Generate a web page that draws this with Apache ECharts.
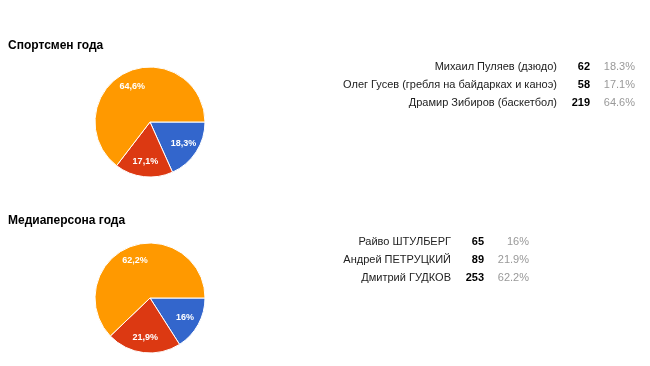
<!DOCTYPE html>
<html><head><meta charset="utf-8">
<script src="https://cdn.jsdelivr.net/npm/echarts@6/dist/echarts.min.js"></script>
<style>html,body{margin:0;padding:0;background:#fff}#c{width:650px;height:366px}</style>
</head><body><div id="c"></div>
<script>
var titles = ['Спортсмен года', 'Медиаперсона года'];
var names1 = ['Михаил Пуляев (дзюдо)', 'Олег Гусев (гребля на байдарках и каноэ)', 'Драмир Зибиров (баскетбол)'];
var values1 = [62, 58, 219];
var names2 = ['Райво ШТУЛБЕРГ', 'Андрей ПЕТРУЦКИЙ', 'Дмитрий ГУДКОВ'];
var values2 = [65, 89, 253];
var colors = ['#3366cc', '#dc3912', '#ff9900'];

function pct(v, arr) {
  var s = arr.reduce(function(a, b){return a + b;}, 0);
  return parseFloat((v / s * 100).toFixed(1));
}
var chart = echarts.init(document.getElementById('c'));
var groups = [
  {names: names1, values: values1, cy: 122, titleY: 47, nameX: 557, valX: 590, pctX: 635, rowY: 67},
  {names: names2, values: values2, cy: 298, titleY: 222, nameX: 451, valX: 484, pctX: 529, rowY: 242}
];
var series = [], graphic = [];
groups.forEach(function(g, gi) {
  var data = g.names.map(function(n, i){ return {name: n, value: g.values[i], itemStyle: {color: colors[i]}}; });
  series.push({
    type: 'pie', center: [150, g.cy], radius: [0, 55], startAngle: 0, clockwise: true,
    silent: true, label: {show: false}, labelLine: {show: false},
    itemStyle: {borderColor: '#fff', borderWidth: 1}, data: data, animation: false
  });
  series.push({
    type: 'pie', center: [150, g.cy], radius: [0, 74], startAngle: 0, clockwise: true,
    silent: true, itemStyle: {color: 'rgba(0,0,0,0)'}, labelLine: {show: false},
    label: {show: true, position: 'inside', color: '#fff', fontSize: 9, fontWeight: 'bold', fontFamily: 'Arial',
      formatter: function(p){ return String(parseFloat(p.percent.toFixed(1))).replace('.', ',') + '%'; }},
    data: g.names.map(function(n, i){ return {name: n, value: g.values[i]}; }), animation: false
  });
  graphic.push({type: 'text', left: 8, top: g.titleY - 7, style: {text: titles[gi], font: 'bold 12px Arial', fill: '#000'}});
  g.names.forEach(function(n, i) {
    var y = g.rowY + i * 18;
    graphic.push({type: 'text', x: g.nameX, y: y, style: {text: n, font: '11px Arial', fill: '#222', align: 'right', verticalAlign: 'middle'}});
    graphic.push({type: 'text', x: g.valX, y: y, style: {text: String(g.values[i]), font: 'bold 11px Arial', fill: '#000', align: 'right', verticalAlign: 'middle'}});
    graphic.push({type: 'text', x: g.pctX, y: y, style: {text: pct(g.values[i], g.values) + '%', font: '11px Arial', fill: '#999', align: 'right', verticalAlign: 'middle'}});
  });
});
chart.setOption({animation: false, series: series, graphic: graphic});
</script></body></html>
